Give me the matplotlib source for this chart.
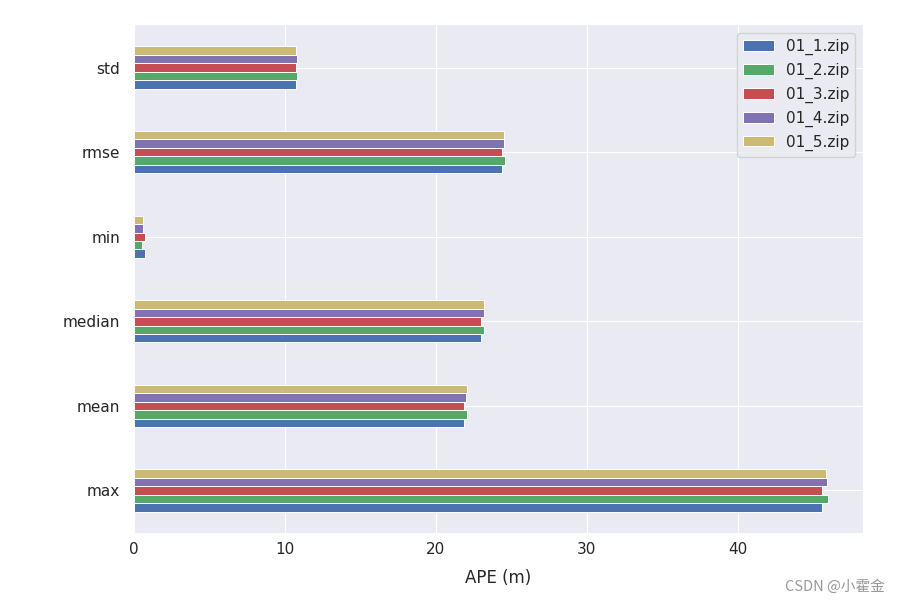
import numpy as np
import matplotlib.pyplot as plt

# метрики APE для пяти прогонов
metrics = ['max', 'mean', 'median', 'min', 'rmse', 'std']
series_names = ['01_1.zip', '01_2.zip', '01_3.zip', '01_4.zip', '01_5.zip']
run_1 = [45.60, 21.83, 22.98, 0.73, 24.35, 10.71]
run_2 = [46.00, 22.05, 23.18, 0.53, 24.57, 10.77]
run_3 = [45.60, 21.83, 22.98, 0.73, 24.35, 10.71]
run_4 = [45.90, 21.99, 23.18, 0.57, 24.50, 10.77]
run_5 = [45.83, 22.05, 23.18, 0.57, 24.50, 10.71]

colors = ['#4C72B0', '#55A868', '#C44E52', '#8172B2', '#CCB974']

plt.style.use('seaborn-v0_8-darkgrid')
plt.rcParams['font.family'] = ['DejaVu Sans', 'Noto Sans CJK SC']

fig = plt.figure(figsize=(9, 6.02), dpi=100)
ax = fig.add_axes([0.149, 0.115, 0.81, 0.843])

all_runs = [run_1, run_2, run_3, run_4, run_5]
pos = np.arange(len(metrics))
w = 0.5 / len(all_runs)
for i, (vals, name) in enumerate(zip(all_runs, series_names)):
    ax.barh(pos - 0.25 + (i + 0.5) * w, vals, height=w, color=colors[i],
            edgecolor='white', linewidth=0.7, label=name)

ax.set_yticks(pos)
ax.set_yticklabels(metrics)
ax.set_ylim(-0.5, 5.5)
ax.set_xlim(0, 46.0 * 1.05)
ax.set_xlabel('APE (m)', fontsize=12, labelpad=8)
ax.tick_params(labelsize=11)
ax.tick_params(axis='y', pad=10)
ax.tick_params(axis='x', pad=7)
ax.legend(loc='upper right', frameon=True, fontsize=11, facecolor='#EAEAF2',
          edgecolor='#CCCCCC', framealpha=0.8)

fig.text(0.983, 0.014, 'CSDN @小霍金', ha='right', va='bottom', color='#999999',
         fontsize=10.5, family=['Noto Sans CJK SC', 'DejaVu Sans'])

plt.savefig('out.png')
